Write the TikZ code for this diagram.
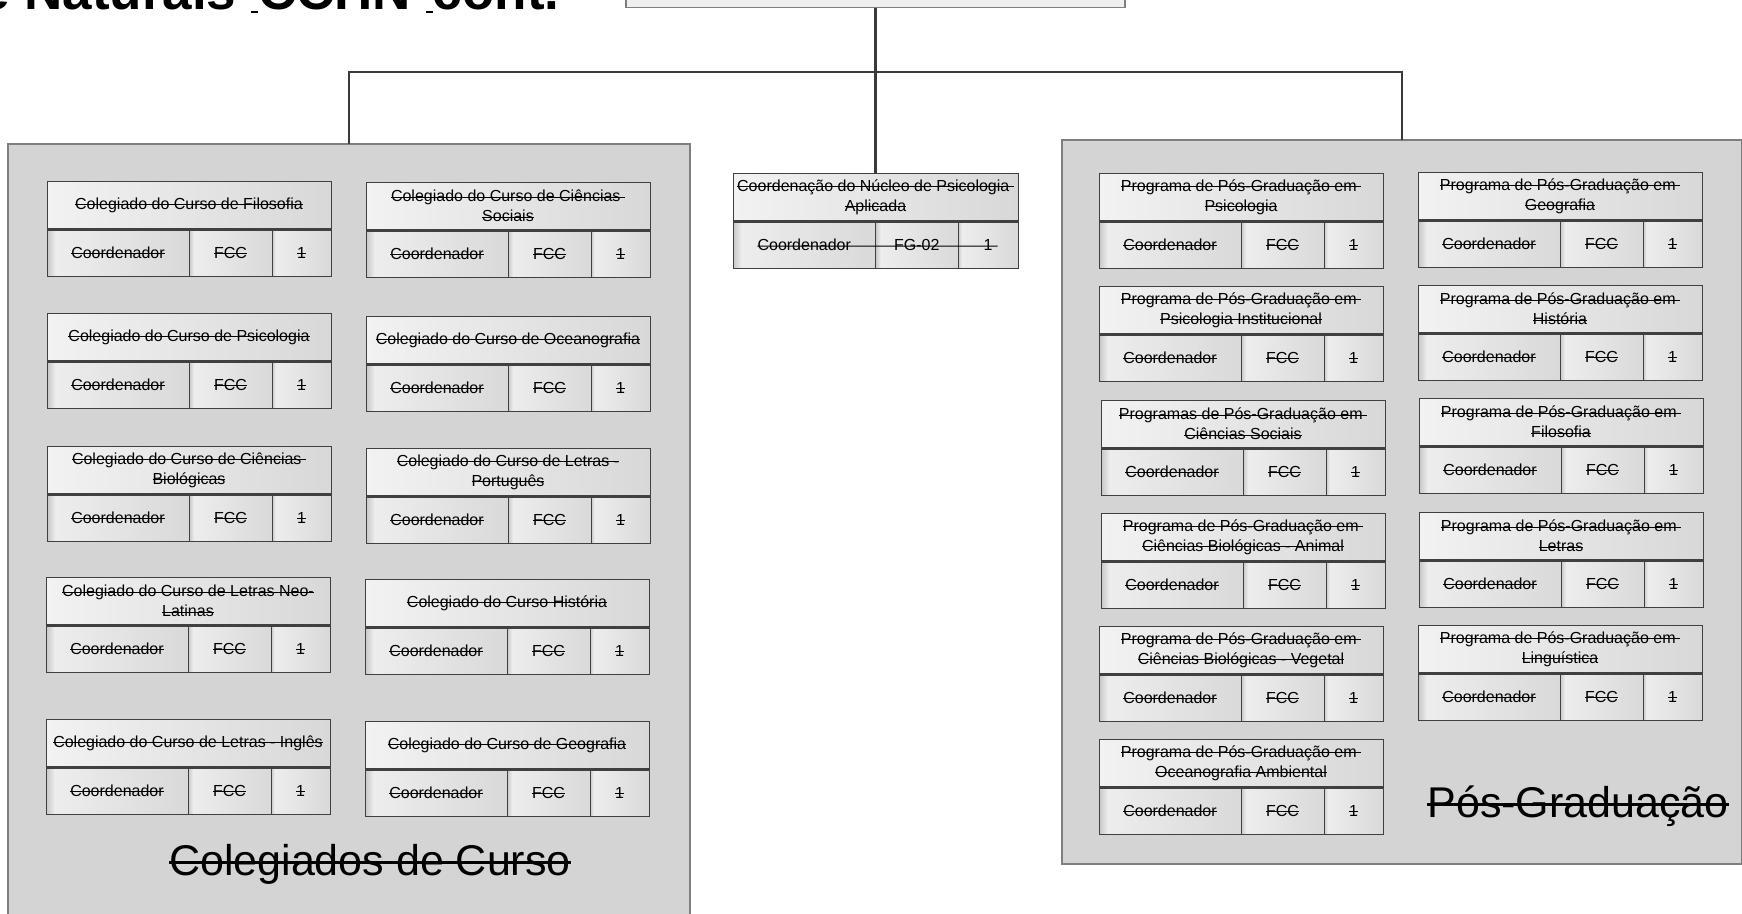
\documentclass[tikz,border=0pt]{standalone}
\usepackage{fontspec}
\setmainfont{Liberation Sans}
\usetikzlibrary{calc}
\definecolor{panelc}{HTML}{D4D4D4}
\definecolor{panelb}{HTML}{7F7F7F}
\definecolor{bdr}{HTML}{404040}
\definecolor{connc}{HTML}{3A3A3A}
\definecolor{topf}{HTML}{EFEFEF}
\definecolor{tL}{HTML}{F2F2F2}
\definecolor{tD}{HTML}{D8D8D8}
\definecolor{cD}{HTML}{C6C6C6}
\definecolor{cL}{HTML}{EDEDED}
\definecolor{cM}{HTML}{D9D9D9}
\pgfdeclarehorizontalshading{cellsh}{100bp}{color(0bp)=(cD); color(25bp)=(cD); color(28bp)=(cL); color(75bp)=(cM); color(100bp)=(cM)}
\pgfdeclarehorizontalshading{titlesh}{100bp}{color(0bp)=(tL); color(25bp)=(tL); color(75bp)=(tD); color(100bp)=(tD)}
\newcommand{\so}[1]{\setbox0=\hbox{#1}\rlap{\rule[0.25em]{\wd0}{0.065em}}\box0}
\newcommand{\tfont}{\fontsize{16}{20}\selectfont}
\newcommand{\lowdash}{\rule[-0.08em]{0.13em}{0.05em}}
\newcommand{\unitbox}[5]{%
 \node[titlecell, anchor=north west] (#1) at (#2,#3) {#4};
 \node[cellA, anchor=north west] (#1a) at (#1.south west) {\so{Coordenador}};
 \node[cellB, anchor=north west] (#1b) at (#1a.north east) {\so{#5}};
 \node[cellC, anchor=north west] (#1c) at (#1b.north east) {\so{1}};
 \draw[sepline] (#1.south west) -- (#1.south east);
}
\tikzset{
 titlecell/.style={draw=bdr, line width=0.9pt, shading=titlesh, minimum width=284, minimum height=48, inner sep=0, outer sep=0, align=center, font=\tfont},
 cellbase/.style={draw=bdr, line width=0.9pt, shading=cellsh, minimum height=47, inner sep=0, outer sep=0, font=\tfont},
 cellA/.style={cellbase, minimum width=142},
 cellB/.style={cellbase, minimum width=83},
 cellC/.style={cellbase, minimum width=59},
 sepline/.style={draw=bdr, line width=3pt},
 panel/.style={draw=panelb, fill=panelc, line width=1.2pt, inner sep=0, outer sep=0},
 connline/.style={draw=connc, line width=2.3pt},
 bigtext/.style={font=\fontsize{43}{50}\selectfont, inner sep=0},
 celltxt/.style={font=\tfont, inner sep=0},
 strikeline/.style={draw=black, line width=1pt},
}
\begin{document}
\begin{tikzpicture}[x=1pt,y=-1pt]
\useasboundingbox (0,0) rectangle (1742,913);
% heading (cut off)
\node[font=\fontsize{53}{60}\selectfont\bfseries, anchor=base west, inner sep=0] (hd) at (-20,9) {e Naturais \lowdash CCHN \lowdash cont.};
% top box
\node[draw=panelb, fill=topf, line width=1.2pt, anchor=south west, minimum width=499, minimum height=70, outer sep=0] (top) at (626,7.5) {};
% panels
\node[panel, anchor=north west, minimum width=682, minimum height=790] (lp) at (8,144) {};
\node[panel, anchor=north west, minimum width=680, minimum height=724] (rp) at (1062,140) {};
% left panel boxes
\unitbox{A1}{47}{181}{\so{Colegiado do Curso de Filosofia}}{FCC}
\unitbox{A2}{47}{313}{\so{Colegiado do Curso de Psicologia}}{FCC}
\unitbox{A3}{47}{446}{\so{Colegiado do Curso de Ciências\ }\\\so{Biológicas}}{FCC}
\unitbox{A4}{46}{577}{\so{Colegiado do Curso de Letras Neo-}\\\so{Latinas}}{FCC}
\unitbox{A5}{46}{719}{\so{Colegiado do Curso de Letras - Inglês}}{FCC}
\unitbox{B1}{366}{182}{\so{Colegiado do Curso de Ciências\ }\\\so{Sociais}}{FCC}
\unitbox{B2}{366}{316}{\so{Colegiado do Curso de Oceanografia}}{FCC}
\unitbox{B3}{366}{448}{\so{Colegiado do Curso de Letras -}\\\so{Português}}{FCC}
\unitbox{B4}{365}{579}{\so{Colegiado do Curso História}}{FCC}
\unitbox{B5}{365}{721}{\so{Colegiado do Curso de Geografia}}{FCC}
% right panel boxes
\unitbox{C1}{1099}{173}{\so{Programa de Pós-Graduação em\ }\\\so{Psicologia}}{FCC}
\unitbox{C2}{1099}{286}{\so{Programa de Pós-Graduação em\ }\\\so{Psicologia Institucional}}{FCC}
\unitbox{C3}{1101}{400}{\so{Programas de Pós-Graduação em\ }\\\so{Ciências Sociais}}{FCC}
\unitbox{C4}{1101}{513}{\so{Programa de Pós-Graduação em\ }\\\so{Ciências Biológicas - Animal}}{FCC}
\unitbox{C5}{1099}{626}{\so{Programa de Pós-Graduação em\ }\\\so{Ciências Biológicas - Vegetal}}{FCC}
\unitbox{C6}{1099}{739}{\so{Programa de Pós-Graduação em\ }\\\so{Oceanografia Ambiental}}{FCC}
\unitbox{D1}{1418}{172}{\so{Programa de Pós-Graduação em\ }\\\so{Geografia}}{FCC}
\unitbox{D2}{1418}{285}{\so{Programa de Pós-Graduação em\ }\\\so{História}}{FCC}
\unitbox{D3}{1419}{398}{\so{Programa de Pós-Graduação em\ }\\\so{Filosofia}}{FCC}
\unitbox{D4}{1419}{512}{\so{Programa de Pós-Graduação em\ }\\\so{Letras}}{FCC}
\unitbox{D5}{1418}{625}{\so{Programa de Pós-Graduação em\ }\\\so{Linguística}}{FCC}
% center box
\node[titlecell, minimum width=285, anchor=north west] (ct) at (733,173) {\so{Coordenação do Núcleo de Psicologia\ }\\\so{Aplicada}};
\node[cellbase, minimum width=142.5, anchor=north west] (cta) at (ct.south west) {};
\node[cellbase, minimum width=82.5, anchor=north west] (ctb) at (cta.north east) {};
\node[cellbase, minimum width=60, anchor=north west] (ctc) at (ctb.north east) {};
\draw[sepline] (ct.south west) -- (ct.south east);
\node[celltxt] (ctxa) at (cta) {Coordenador};
\node[celltxt] (ctxb) at (ctb) {FG-02};
\node[celltxt] (ctxc) at (ctc) {1};
\draw[strikeline] ($(ctxa.base west)+(0,-4)$) -- ($(ctxc.base east)+(5,-4)$);
% big labels
\node[bigtext, anchor=base] (lpl) at (370,875) {\so{Colegiados de Curso}};
\node[bigtext, anchor=base] (rpl) at (1578,817) {\so{Pós-Graduação}};
% connectors
\coordinate (j) at ($(top.south)+(0,64.5)$);
\draw[connline] (top.south) -- (top.south |- ct.north);
\draw[connline] (lp.north) |- (j) -| (rp.north);
\end{tikzpicture}
\end{document}
